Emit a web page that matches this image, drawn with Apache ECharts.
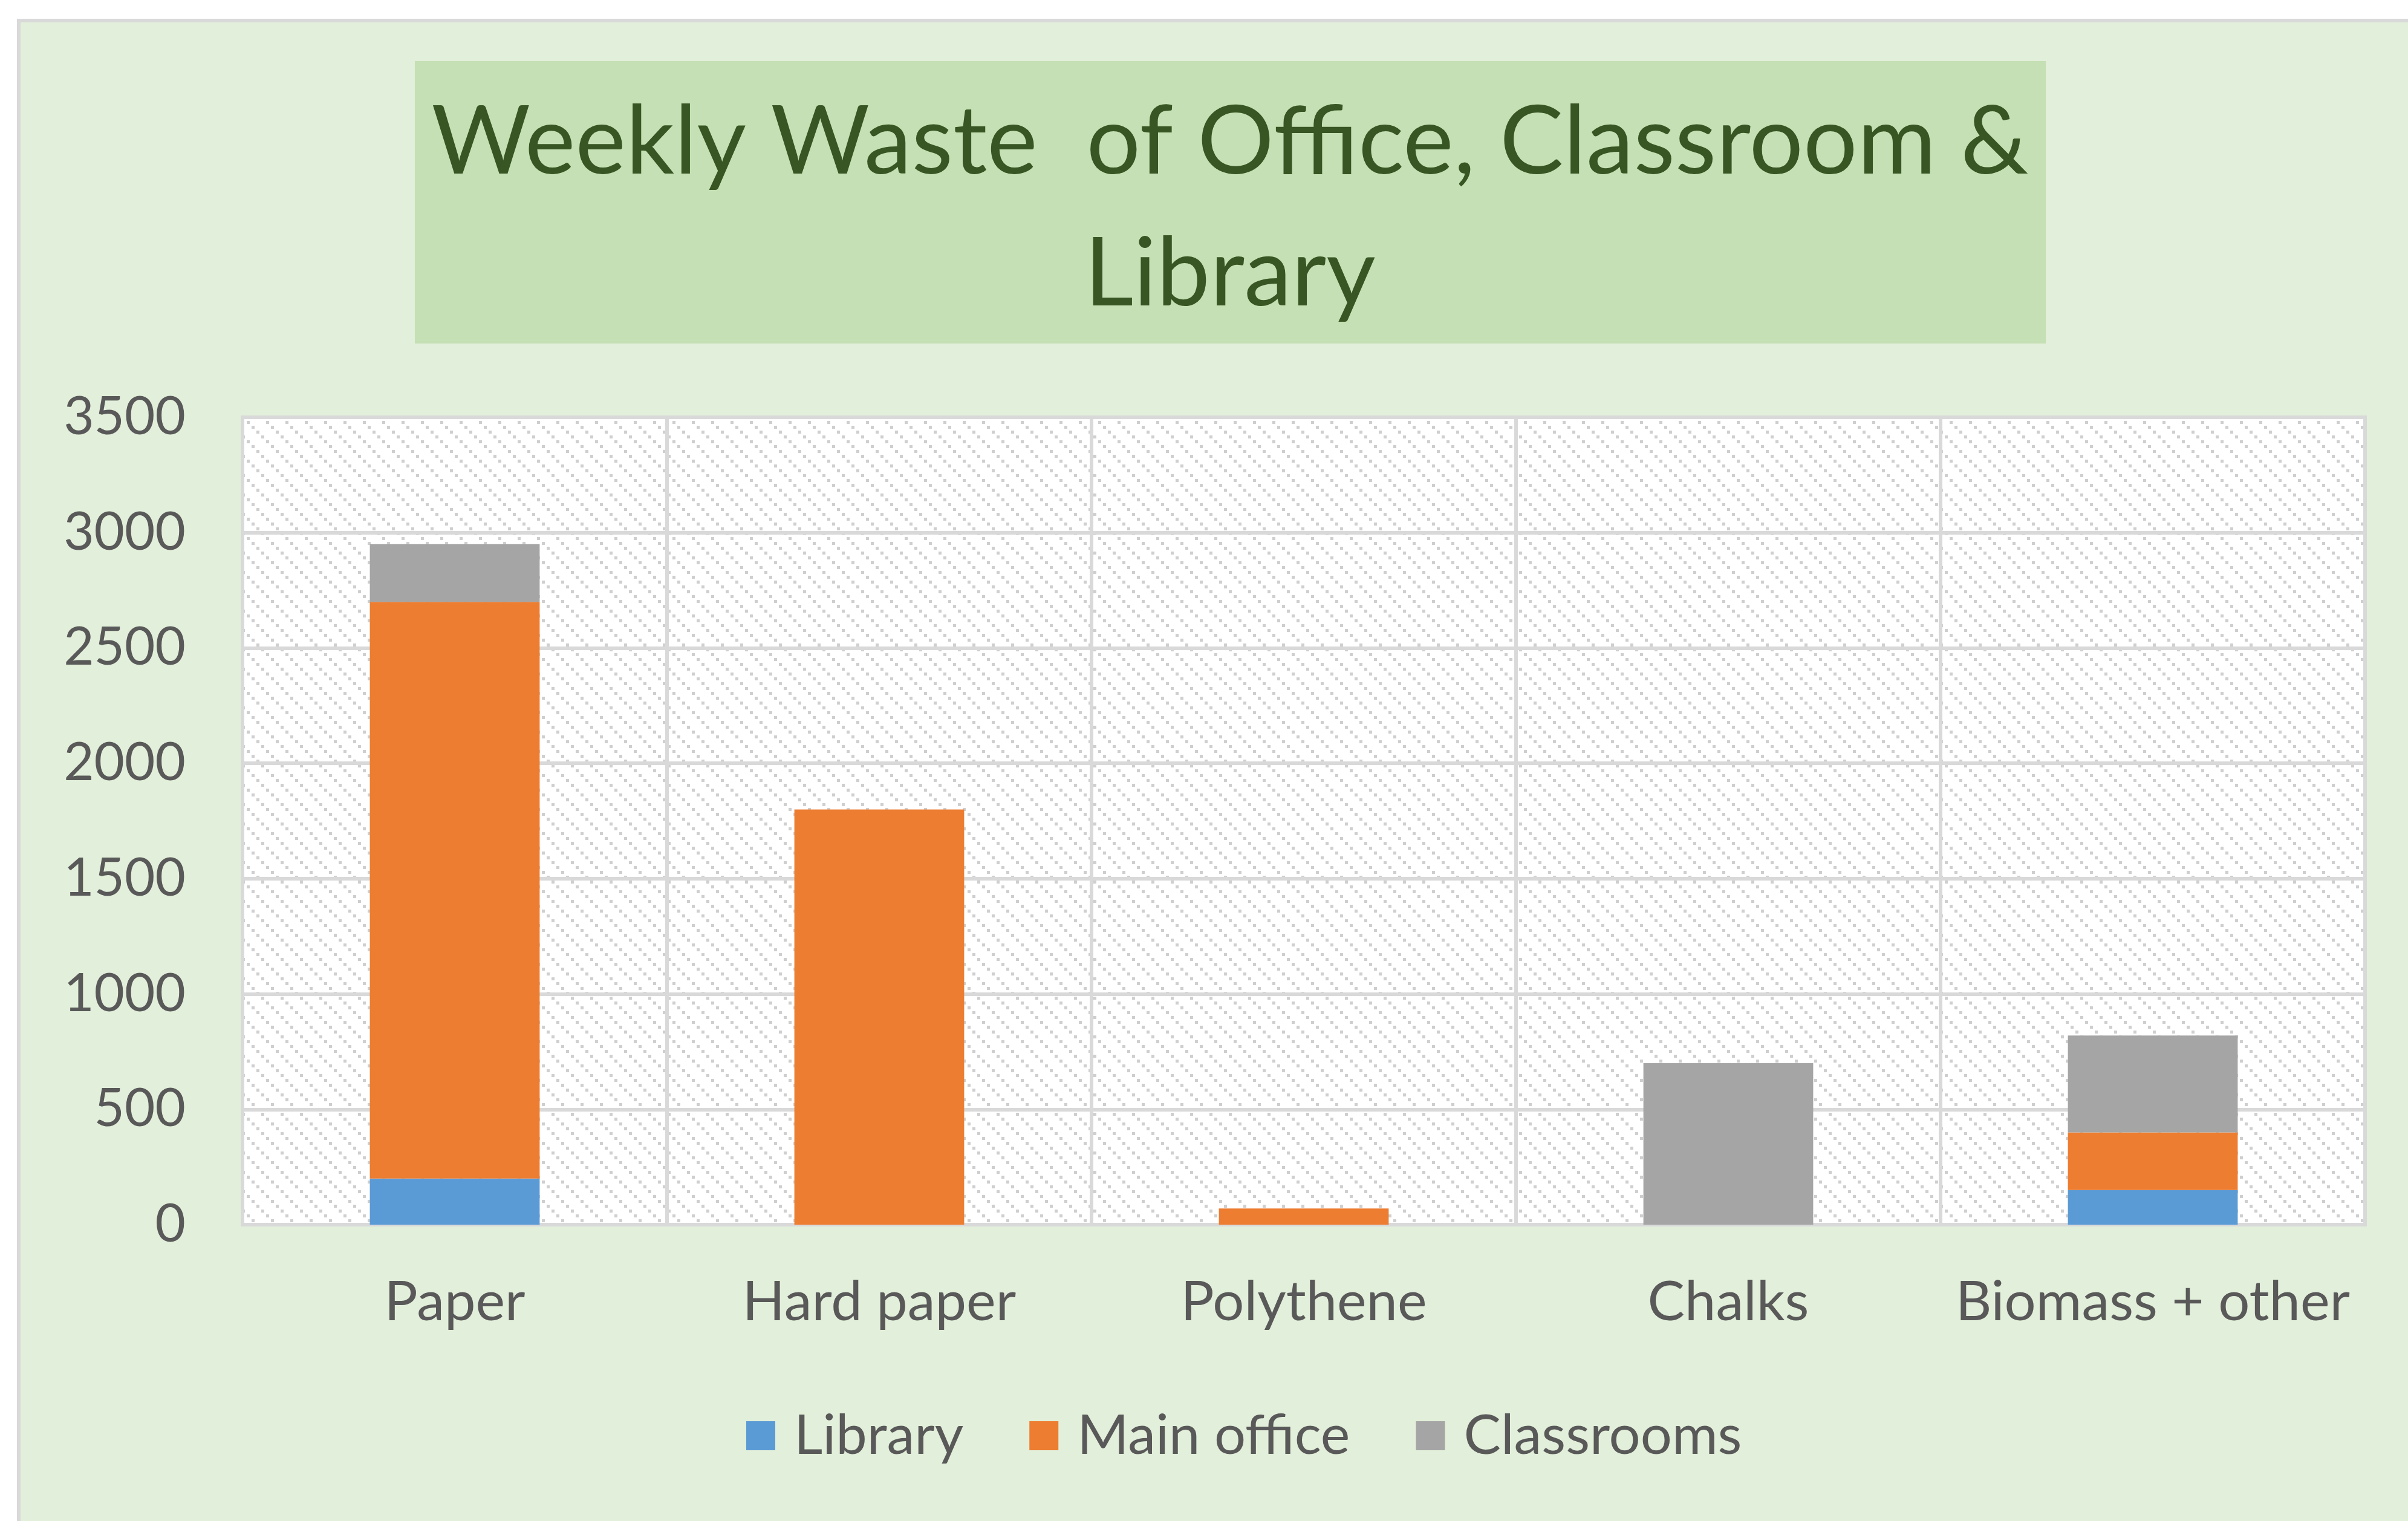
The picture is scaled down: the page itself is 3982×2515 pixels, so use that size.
<!DOCTYPE html>
<html>
<head>
<meta charset="utf-8">
<title>Weekly Waste</title>
<script src="https://cdn.jsdelivr.net/npm/echarts@6/dist/echarts.min.js"></script>
<style>
    html, body { margin: 0; padding: 0; background: #fff; }
    #main { width: 3982px; height: 2515px; }
</style>
</head>
<body>
<div id="main"></div>
<script>
'use strict';
var categories = ['Paper', 'Hard paper', 'Polythene', 'Chalks', 'Biomass + other'];
var seriesNames = ['Library', 'Main office', 'Classrooms'];
var library = [200, 0, 0, 0, 150];
var mainOffice = [2500, 1800, 70, 0, 250];
var classrooms = [250, 0, 0, 700, 420];
var yTicks = [0, 500, 1000, 1500, 2000, 2500, 3000, 3500];

var colors = {
    library: '#5b9bd5',
    office: '#ed7d31',
    classrooms: '#a5a5a5',
    label: '#595959',
    line: '#d9d9d9'
};

// dotted diagonal hatch for the plot area (excel "wide downward diagonal")
var makeHatch = function () {
    var s = 32, step = 8, dot = 5;
    var cv = document.createElement('canvas');
    cv.width = s;
    cv.height = s;
    var ctx = cv.getContext('2d');
    ctx.fillStyle = '#ffffff';
    ctx.fillRect(0, 0, s, s);
    ctx.fillStyle = '#cfcfcf';
    for (var i = 0; i < s / step; i++) {
        ctx.fillRect(i * step, i * step, dot, dot);
    }
    return cv;
};

var chart = echarts.init(document.getElementById('main'));

var bar = function (name, data, color) {
    return {
        name: name,
        type: 'bar',
        stack: 'waste',
        barWidth: '40%',
        itemStyle: { color: color },
        data: data
    };
};

var option = {
    backgroundColor: '#ffffff',
    animation: false,
    textStyle: { fontFamily: 'Lato' },
    graphic: [{
        type: 'rect',
        z: -10,
        shape: { x: 31, y: 34, width: 4000, height: 2600 },
        style: { fill: '#e2efda', stroke: colors.line, lineWidth: 6 }
    }, {
        type: 'rect',
        z: -5,
        shape: { x: 686, y: 101, width: 2697, height: 467 },
        style: { fill: '#c5e0b4' }
    }],
    title: {
        text: 'Weekly Waste  of Office, Classroom &\nLibrary',
        left: 2034,
        top: 127,
        padding: 0,
        textAlign: 'center',
        textStyle: {
            fontFamily: 'Lato',
            fontSize: 158,
            fontWeight: 'normal',
            color: '#375623',
            lineHeight: 218
        }
    },
    legend: {
        data: seriesNames,
        left: 1229,
        top: 2323,
        icon: 'rect',
        itemWidth: 48,
        itemHeight: 48,
        itemGap: 109,
        textStyle: {
            fontFamily: 'Lato',
            fontSize: 92,
            color: colors.label,
            padding: [0, 0, 0, 26]
        }
    },
    grid: {
        left: 401,
        right: 71,
        top: 690,
        bottom: 490,
        show: true,
        backgroundColor: { image: makeHatch(), repeat: 'repeat' },
        borderColor: colors.line,
        borderWidth: 6
    },
    xAxis: {
        type: 'category',
        data: categories,
        axisLine: { lineStyle: { color: colors.line, width: 6 } },
        axisTick: { show: false },
        axisLabel: {
            interval: 0,
            margin: 82,
            fontFamily: 'Lato',
            fontSize: 92,
            color: colors.label
        },
        splitLine: {
            show: true,
            interval: 0,
            lineStyle: { color: colors.line, width: 6 }
        }
    },
    yAxis: {
        type: 'value',
        min: yTicks[0],
        max: yTicks[yTicks.length - 1],
        interval: yTicks[1] - yTicks[0],
        axisLine: { show: false },
        axisTick: { show: false },
        axisLabel: {
            margin: 94,
            fontFamily: 'Lato',
            fontSize: 87,
            color: colors.label,
            formatter: function (v) { return String(v); }
        },
        splitLine: { lineStyle: { color: colors.line, width: 6 } }
    },
    series: [
        bar(seriesNames[0], library, colors.library),
        bar(seriesNames[1], mainOffice, colors.office),
        bar(seriesNames[2], classrooms, colors.classrooms)
    ]
};

chart.setOption(option);
</script>
</body>
</html>
